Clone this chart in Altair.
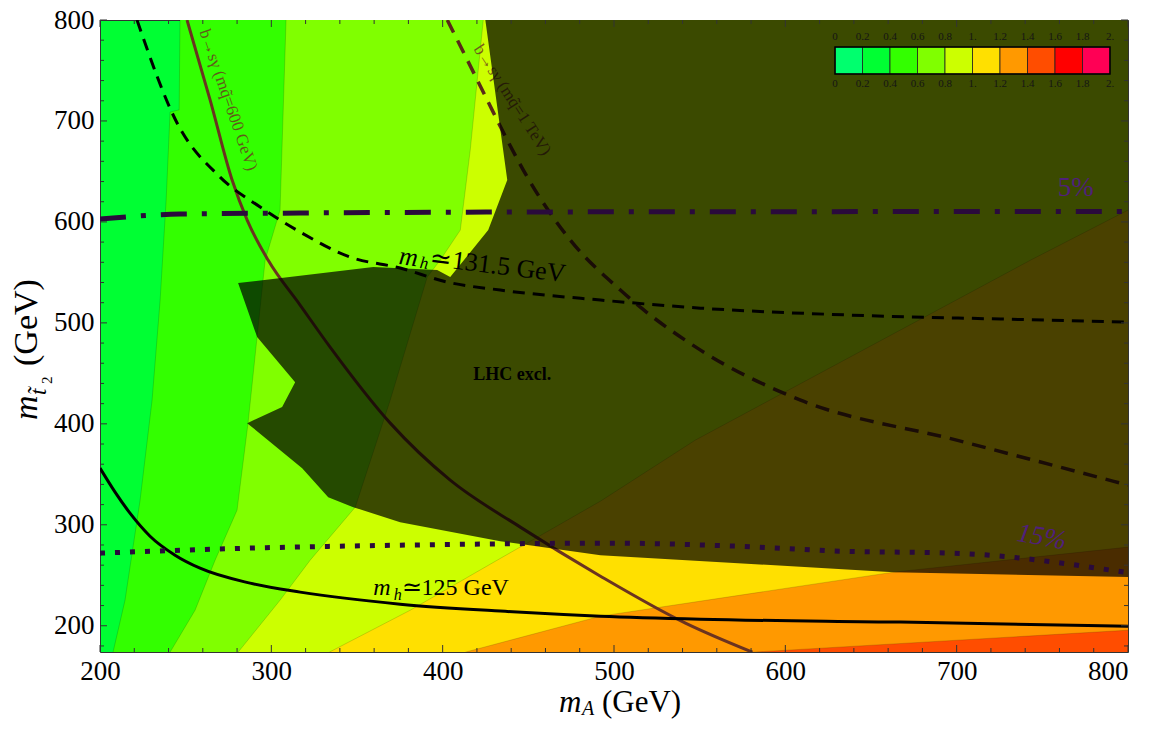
import altair as alt
import pandas as pd

SERIF = "Liberation Serif"
W, H = 1028, 632
X_DOM = [200, 800]
Y_DOM = [174, 800]

# ---------------- data ----------------
band_colors = ["#00FF6E", "#00FF33", "#33FF00", "#80FF00", "#CCFF00",
               "#FFE000", "#FF9900", "#FF4D00", "#FF0000", "#FF0055"]
legend_ticks = [0, 0.2, 0.4, 0.6, 0.8, 1.0, 1.2, 1.4, 1.6, 1.8, 2.0]
legend_tick_labels = ["0", "0.2", "0.4", "0.6", "0.8", "1.", "1.2", "1.4", "1.6", "1.8", "2."]

# contour boundaries read as m_A (x) versus m_stop2 (y)
b04_y = [173.8, 225.3, 324.4, 423.5, 522.6, 621.6, 708.8, 711.0, 800.0]
b04_x = [207.6, 214.6, 223.4, 230.4, 235.1, 238.6, 240.9, 246.2, 246.7]
b06_y = [173.8, 215.4, 265.0, 314.5, 400.7, 562.2, 611.7, 800.0]
b06_x = [240.9, 255.5, 267.2, 280.0, 286.4, 296.4, 305.1, 308.6]
b08_y = [173.8, 225.3, 265.0, 317.5, 423.5, 545.4, 562.2, 591.9, 671.2, 800.0]
b08_x = [280.6, 305.1, 322.7, 349.0, 369.4, 391.0, 398.6, 410.3, 416.1, 423.7]
# contour boundaries read as m_stop2 (y) versus m_A (x)
b10_x = [333.8, 381.1, 431.9, 492.1, 547.5, 743.2, 800.0]
b10_y = [173.8, 215.4, 265.0, 323.4, 383.9, 562.2, 611.7]
b12_x = [413.2, 492.1, 663.2, 800.0]
b12_y = [173.8, 209.5, 253.1, 277.9]
b14_x = [580.8, 800.0]
b14_y = [173.8, 195.6]

# LHC exclusion (shaded) region outline
lhc_x = [424.9, 800.0, 800.0, 663.2, 492.1, 433.6, 375.2, 347.8, 333.2, 318.0, 285.9,
         306.3, 313.9, 291.7, 280.6, 359.5, 396.8, 404.4, 426.6, 437.7]
lhc_y = [800.0, 800.0, 248.2, 253.1, 269.9, 283.8, 302.6, 317.5, 327.4, 356.1, 400.7,
         416.6, 441.3, 485.9, 539.4, 555.3, 552.3, 545.4, 591.9, 641.5]

# m_h ~ 125 GeV contour
mh125_x = [200, 208.8, 217.5, 229.2, 243.8, 258.4, 287.6, 316.8, 375.2, 433.6, 492.1, 550.5, 667.3, 800]
mh125_y = [356.1, 332.3, 311.5, 288.7, 269.9, 257.0, 242.2, 233.3, 221.4, 214.5, 209.5, 206.5, 203.6, 199.6]
# m_h ~ 131.5 GeV contour
mh131_x = [221.6, 245.0, 270.1, 293.5, 316.8, 346.0, 375.2, 402.7, 433.6, 492.1, 550.5, 638.1, 725.7, 800]
mh131_y = [800, 698, 644.4, 614.7, 590.0, 565.2, 554.3, 540.4, 532.5, 522.6, 514.6, 507.7, 503.8, 500.8]
# 5% tuning contour
t5_x = [200, 246.7, 316.8, 500, 800]
t5_y = [602.8, 607.8, 608.8, 610.0, 610.3]
# 15% tuning contour
t15_x = [200, 287.6, 375.2, 499.1, 571.5, 631.6, 698.2, 800]
t15_y = [271.9, 276.9, 279.8, 281.8, 278.8, 273.9, 271.9, 252.5]
# b -> s gamma, m_sq = 600 GeV
bsg600_x = [250.8, 264.3, 277.1, 285.9, 298.1, 316.8, 334.3, 369.4, 404.4, 445.3, 492.1, 541.7, 580.8]
bsg600_y = [800, 720.7, 641.5, 601.8, 562.2, 517.6, 476.0, 400.7, 344.2, 297.7, 249.1, 202.6, 173.8]
# b -> s gamma, m_sq = 1 TeV
bsg1t_x = [402.7, 414.4, 426.0, 437.7, 449.4, 474.5, 503.7, 550.5, 608.9, 700.0, 800]
bsg1t_y = [800, 760.4, 720.7, 681.1, 644.4, 582.0, 532.5, 473.0, 423.5, 383.9, 339.3]

x_major = list(range(200, 801, 100))
x_minor = [v for v in range(200, 801, 20) if v % 100]
y_major = list(range(200, 801, 100))
y_minor = [v for v in range(180, 801, 20) if v % 100]

# ---------------- helpers ----------------
x_axis = alt.Axis(values=x_major, grid=False, ticks=False, tickSize=0, domain=False,
                  labelFont=SERIF, labelFontSize=27, labelColor="black",
                  labelPadding=6, labelFlush=False, labelOverlap=False,
                  labelAlign={"condition": {"test": "datum.value == 800", "value": "right"},
                              "value": "center"})
y_axis = alt.Axis(values=y_major, grid=False, ticks=False, tickSize=0, domain=False,
                  labelFont=SERIF, labelFontSize=27, labelColor="black",
                  labelPadding=6, labelFlush=False, labelOverlap=False)


def X(f):
    return alt.X(f, type="quantitative", scale=alt.Scale(domain=X_DOM, nice=False, zero=False),
                 axis=x_axis, title=None)


def Y(f):
    return alt.Y(f, type="quantitative", scale=alt.Scale(domain=Y_DOM, nice=False, zero=False),
                 axis=y_axis, title=None)


def curve_df(xs, ys):
    return pd.DataFrame({"x": xs, "y": ys, "i": range(len(xs))})


def polygon(xs, ys, color, opacity=1.0):
    return alt.Chart(curve_df(xs, ys)).mark_line(
        fill=color, fillOpacity=opacity, strokeWidth=0, interpolate="linear-closed",
        clip=True).encode(x=X("x"), y=Y("y"), order="i:Q")


layers = []

# bands defined by x = f(y): region to the right of the boundary
for xs, ys, col in [(b04_x, b04_y, band_colors[2]), (b06_x, b06_y, band_colors[3]),
                    (b08_x, b08_y, band_colors[4])]:
    layers.append(polygon(xs + [X_DOM[1], X_DOM[1]], ys + [Y_DOM[1], Y_DOM[0]], col))
# bands defined by y = g(x): region below the boundary
for xs, ys, col in [(b10_x, b10_y, band_colors[5]), (b12_x, b12_y, band_colors[6]),
                    (b14_x, b14_y, band_colors[7])]:
    layers.append(alt.Chart(curve_df(xs, ys)).mark_area(
        color=col, clip=True, interpolate="linear").encode(
        x=X("x"), y=Y("y"), y2=alt.datum(Y_DOM[0])))
# thin contour edges
for xs, ys in [(b04_x, b04_y), (b06_x, b06_y), (b08_x, b08_y),
               (b10_x, b10_y), (b12_x, b12_y), (b14_x, b14_y)]:
    layers.append(alt.Chart(curve_df(xs, ys)).mark_line(
        color="#000000", opacity=0.15, strokeWidth=1, clip=True).encode(
        x=X("x"), y=Y("y"), order="i:Q"))

# b -> s gamma lines (beneath the shading)
layers.append(alt.Chart(curve_df(bsg600_x, bsg600_y)).mark_line(
    color="#6B3320", strokeWidth=3, clip=True, interpolate="monotone").encode(
    x=X("x"), y=Y("y"), order="i:Q"))
layers.append(alt.Chart(curve_df(bsg1t_x, bsg1t_y)).mark_line(
    color="#5A2A18", strokeWidth=3.5, strokeDash=[14, 9], clip=True, interpolate="monotone").encode(
    x=X("x"), y=Y("y"), order="i:Q"))
bsg_lab = [(274.8, 720.7, "b→sγ (mq̃=600 GeV)", 71), (440.6, 720.7, "b→sγ (mq̃=1 TeV)", 57)]
for bx, by, bt, ba in bsg_lab:
    layers.append(alt.Chart(pd.DataFrame({"x": [bx], "y": [by], "t": [bt]})).mark_text(
        font=SERIF, fontSize=17, color="#6B3320", opacity=0.8, angle=ba,
        align="center", baseline="middle").encode(x=X("x"), y=Y("y"), text="t:N"))

# LHC exclusion shading
layers.append(polygon(lhc_x, lhc_y, "#000000", 0.71))

# higgs mass and tuning contours
layers.append(alt.Chart(curve_df(mh125_x, mh125_y)).mark_line(
    color="black", strokeWidth=3, clip=True, interpolate="monotone").encode(
    x=X("x"), y=Y("y"), order="i:Q"))
layers.append(alt.Chart(curve_df(mh131_x, mh131_y)).mark_line(
    color="black", strokeWidth=3, strokeDash=[12, 8], clip=True, interpolate="monotone").encode(
    x=X("x"), y=Y("y"), order="i:Q"))
layers.append(alt.Chart(curve_df(t5_x, t5_y)).mark_line(
    color="#2A0A3C", strokeWidth=5, strokeDash=[26, 15, 5, 15], clip=True, interpolate="monotone").encode(
    x=X("x"), y=Y("y"), order="i:Q"))
layers.append(alt.Chart(curve_df(t15_x, t15_y)).mark_line(
    color="#2A0A3C", strokeWidth=5, strokeDash=[5, 10], clip=True, interpolate="monotone").encode(
    x=X("x"), y=Y("y"), order="i:Q"))


def label(x, y, t, size, **kw):
    return alt.Chart(pd.DataFrame({"x": [x], "y": [y], "t": [t]})).mark_text(
        font=SERIF, fontSize=size, **kw).encode(x=X("x"), y=Y("y"), text="t:N")


# m_h labels
layers.append(label(374.1, 558.2, "m", 26, fontStyle="italic", angle=7, align="left", baseline="alphabetic", color="black"))
layers.append(label(386.3, 554.3, "h", 17, fontStyle="italic", angle=7, align="left", baseline="alphabetic", color="black"))
layers.append(label(392.2, 556.8, "≃131.5 GeV", 26, angle=7, align="left", baseline="alphabetic", color="black"))
layers.append(label(359.5, 230.3, "m", 24, fontStyle="italic", align="left", baseline="alphabetic", color="black"))
layers.append(label(371.4, 225.3, "h", 16, fontStyle="italic", align="left", baseline="alphabetic", color="black"))
layers.append(label(376.0, 230.3, "≃125 GeV", 24, align="left", baseline="alphabetic", color="black"))
layers.append(label(440.6, 448.3, "LHC excl.", 18, fontWeight="bold", align="center", baseline="middle", color="black"))
layers.append(label(769.5, 633.5, "5%", 27, align="center", baseline="middle", color="#50207A"))
layers.append(label(749.6, 287.8, "15%", 27, fontStyle="italic", angle=10, align="center", baseline="middle", color="#50207A"))

# inward frame ticks
TICK = "#333333"
for vals, L in [(x_major, 7), (x_minor, 4)]:
    d = pd.DataFrame({"v": vals})
    layers.append(alt.Chart(d).mark_rule(color=TICK, strokeWidth=1).encode(
        x=X("v"), y=alt.value(H), y2=alt.value(H - L)))
    layers.append(alt.Chart(d).mark_rule(color=TICK, strokeWidth=1).encode(
        x=X("v"), y=alt.value(0), y2=alt.value(L)))
for vals, L in [(y_major, 7), (y_minor, 4)]:
    d = pd.DataFrame({"v": vals})
    layers.append(alt.Chart(d).mark_rule(color=TICK, strokeWidth=1).encode(
        y=Y("v"), x=alt.value(0), x2=alt.value(L)))
    layers.append(alt.Chart(d).mark_rule(color=TICK, strokeWidth=1).encode(
        y=Y("v"), x=alt.value(W), x2=alt.value(W - L)))

# axis titles (composed for italic / subscript)
one = pd.DataFrame({"k": [0]})


def ptext(t, px, py, size, **kw):
    return alt.Chart(one).mark_text(text=t, font=SERIF, fontSize=size, color="black",
                                    align="left", baseline="alphabetic", **kw).encode(
        x=alt.value(px), y=alt.value(py))


layers.append(ptext("m", 459, 692, 31, fontStyle="italic"))
layers.append(ptext("A", 482, 695, 20, fontStyle="italic"))
layers.append(ptext("(GeV)", 502, 692, 31))
layers.append(ptext("m", -63, 400, 34, fontStyle="italic", angle=270))
layers.append(ptext("t̃", -54, 375, 23, fontStyle="italic", angle=270))
layers.append(ptext("2", -48, 364, 15, angle=270))
layers.append(ptext("(GeV)", -63, 346, 34, angle=270))

main = alt.layer(*layers)

# colour bar legend (inset)
leg_scale = alt.Scale(domain=[0, 2], range=[735, 1010])
leg_df = pd.DataFrame({"lo": legend_ticks[:-1], "hi": legend_ticks[1:], "c": band_colors})
leg_rect = alt.Chart(leg_df).mark_rect(stroke="#222222", strokeWidth=0.8).encode(
    x=alt.X("lo:Q", scale=leg_scale, axis=None, title=None), x2="hi:Q",
    y=alt.value(27), y2=alt.value(54), color=alt.Color("c:N", scale=None))
leg_box = alt.Chart(pd.DataFrame({"lo": [0], "hi": [2]})).mark_rect(
    fillOpacity=0, stroke="black", strokeWidth=1.5).encode(
    x=alt.X("lo:Q", scale=leg_scale, axis=None, title=None), x2="hi:Q",
    y=alt.value(27), y2=alt.value(54))
lab_df = pd.DataFrame({"v": legend_ticks, "t": legend_tick_labels})
leg_top = alt.Chart(lab_df).mark_text(font=SERIF, fontSize=11, color="#151515").encode(
    x=alt.X("v:Q", scale=leg_scale, axis=None, title=None), y=alt.value(17), text="t:N")
leg_bot = alt.Chart(lab_df).mark_text(font=SERIF, fontSize=11, color="#151515").encode(
    x=alt.X("v:Q", scale=leg_scale, axis=None, title=None), y=alt.value(64), text="t:N")
legend = alt.layer(leg_rect, leg_box, leg_top, leg_bot)

chart = alt.layer(main, legend).resolve_scale(x="independent").properties(
    width=W, height=H,
    padding={"left": 92, "top": 12, "right": 14, "bottom": 69},
    autosize=alt.AutoSizeParams(type="none"),
).configure_view(fill=band_colors[1], stroke="#333333", strokeWidth=1)

chart.save("out.html", embed_options={"renderer": "svg", "actions": False})
